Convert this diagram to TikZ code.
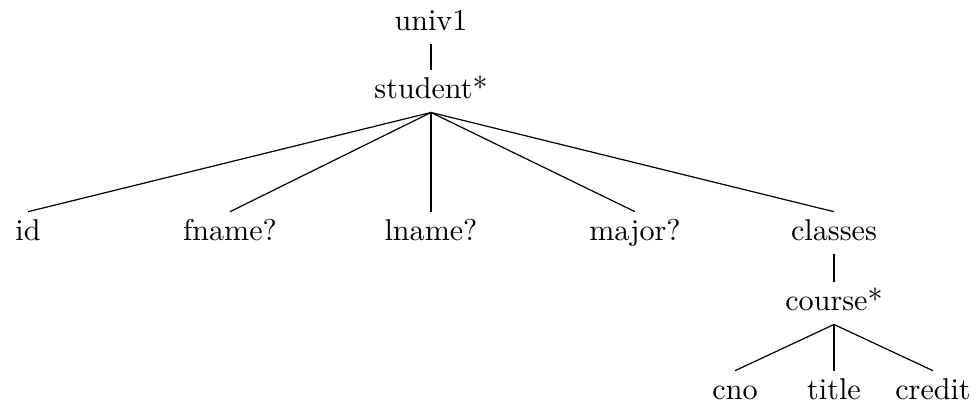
\documentclass[tikz,border=0pt]{standalone}
\begin{document}
\begin{tikzpicture}[x=0.332pt,y=-0.332pt,
  lbl/.style={anchor=base,inner sep=0pt,text height=9.2pt,text depth=4.6pt,font=\fontsize{10}{12}\selectfont},
  edge/.style={draw=black,line width=0.4pt}]
\useasboundingbox (0,0) rectangle (976,402);
\node[lbl] (univ) at (431,30) {univ1};
\node[lbl] (student) at (431,98) {student*};
\node[lbl] (id) at (28,240) {id};
\node[lbl] (fname) at (230,240) {fname?};
\node[lbl] (lname) at (431,240) {lname?};
\node[lbl] (major) at (635,240) {major?};
\node[lbl] (classes) at (834,240) {classes};
\node[lbl] (course) at (834,310) {course*};
\node[lbl] (cno) at (735,399) {cno};
\node[lbl] (title) at (834,399) {title};
\node[lbl] (credit) at (933,399) {credit};
\draw[edge] (univ.south) -- (student.north);
\foreach \c in {id,fname,lname,major,classes}
  \draw[edge] (student.south) -- (\c.north);
\draw[edge] (classes.south) -- (course.north);
\foreach \c in {cno,title,credit}
  \draw[edge] (course.south) -- (\c.north);
\end{tikzpicture}
\end{document}
